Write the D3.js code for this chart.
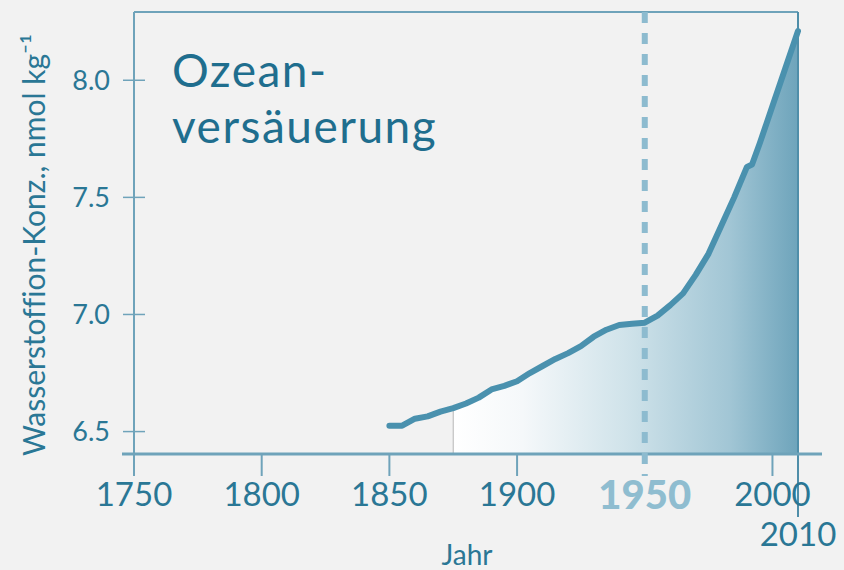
<!DOCTYPE html>
<html>
<head>
<meta charset="utf-8">
<script src="https://cdn.jsdelivr.net/npm/d3@7"></script>
<style>
  body { margin: 0; background: #f2f2f2; }
  svg { display: block; font-family: Lato, "Open Sans", sans-serif; font-variant-ligatures: none; }
</style>
</head>
<body>
<div id="chart-area"></div>
<script>
// data
const years = [1850, 1855, 1860, 1865, 1870, 1875, 1880, 1885, 1890, 1895,
  1900, 1905, 1910, 1915, 1920, 1925, 1930, 1935, 1940, 1945,
  1950, 1955, 1960, 1965, 1970, 1975, 1980, 1985, 1990, 1992,
  1995, 2000, 2005, 2010];
const values = [6.525, 6.525, 6.555, 6.565, 6.585, 6.60, 6.62, 6.645, 6.68, 6.695,
  6.715, 6.75, 6.78, 6.81, 6.835, 6.865, 6.905, 6.935, 6.955, 6.96,
  6.965, 6.995, 7.04, 7.09, 7.17, 7.26, 7.38, 7.50, 7.63, 7.64,
  7.73, 7.89, 8.05, 8.21];
const xTicks = [1750, 1800, 1850, 1900, 2000];
const yTicks = [6.5, 7.0, 7.5, 8.0];
const markYear = 1950;
const endYear = 2010;
const fillStart = 1875;

const W = 844, H = 570;
const MARGIN = { LEFT: 134, RIGHT: 46, TOP: 10, BOTTOM: 115 };

const svg = d3.select('#chart-area').append('svg')
    .attr('width', W)
    .attr('height', H);

const data = years.map((yr, i) => ({ year: yr, value: values[i] }));

const x = d3.scaleLinear()
    .domain([1750, 2010])
    .range([MARGIN.LEFT, W - MARGIN.RIGHT]);

const y = d3.scaleLinear()
    .domain([6.4, 8.3])
    .range([H - MARGIN.BOTTOM, MARGIN.TOP]);

const axisY = y(6.4) - 1;
const textColor = "#2a7795";
const axisColor = "#6fa3ba";

// gradient for area
const defs = svg.append("defs");
const grad = defs.append("linearGradient")
    .attr("id", "areaGrad")
    .attr("gradientUnits", "userSpaceOnUse")
    .attr("x1", x(fillStart)).attr("x2", x(endYear))
    .attr("y1", 0).attr("y2", 0);
[[0, "#ffffff"], [0.2, "#f5f8fa"], [0.5, "#d0e3ea"], [0.8, "#a2c6d5"], [1, "#6ea4bb"]]
    .forEach(s => grad.append("stop").attr("offset", s[0]).attr("stop-color", s[1]));

const areaData = data.filter(d => d.year >= fillStart);
const area = d3.area()
    .x(d => x(d.year))
    .y0(axisY)
    .y1(d => y(d.value));

svg.append("path")
    .datum(areaData)
    .attr("fill", "url(#areaGrad)")
    .attr("d", area);

// thin grey edge at start of fill
svg.append("line")
    .attr("x1", x(fillStart)).attr("x2", x(fillStart))
    .attr("y1", y(areaData[0].value)).attr("y2", axisY)
    .attr("stroke", "#b8b8b8")
    .attr("stroke-width", 1);

// frame: top and right (2010) lines
svg.append("line")
    .attr("x1", x(1750)).attr("x2", x(endYear))
    .attr("y1", y(8.3) + 2).attr("y2", y(8.3) + 2)
    .attr("stroke", axisColor).attr("stroke-width", 2);
svg.append("line")
    .attr("x1", x(endYear)).attr("x2", x(endYear))
    .attr("y1", y(8.3) + 2).attr("y2", axisY + 63)
    .attr("stroke", "#4f8ea9").attr("stroke-width", 2);

// y axis
const yAxis = svg.append("g")
    .attr("transform", `translate(${x(1750)}, 0)`);
yAxis.append("line")
    .attr("y1", y(8.3) + 2).attr("y2", axisY + 22)
    .attr("stroke", axisColor).attr("stroke-width", 2);
yAxis.selectAll(".ytick").data(yTicks).enter().append("line")
    .attr("x1", -11).attr("x2", 11)
    .attr("y1", d => y(d)).attr("y2", d => y(d))
    .attr("stroke", axisColor).attr("stroke-width", 1.5);
yAxis.selectAll(".ylab").data(yTicks).enter().append("text")
    .attr("x", -24)
    .attr("y", d => y(d))
    .attr("dy", "0.36em")
    .attr("text-anchor", "end")
    .attr("font-size", "27px")
    .attr("fill", textColor)
    .text(d => d3.format(".1f")(d));

// x axis
svg.append("line")
    .attr("x1", x(1750) - 12).attr("x2", x(endYear) + 24)
    .attr("y1", axisY).attr("y2", axisY)
    .attr("stroke", axisColor).attr("stroke-width", 3);
svg.selectAll(".xtick").data(xTicks).enter().append("line")
    .attr("x1", d => x(d)).attr("x2", d => x(d))
    .attr("y1", axisY).attr("y2", axisY + 22)
    .attr("stroke", axisColor).attr("stroke-width", 2);
svg.selectAll(".xlab").data(xTicks).enter().append("text")
    .attr("x", d => x(d))
    .attr("y", axisY + 52)
    .attr("text-anchor", "middle")
    .attr("font-size", "33px")
    .attr("fill", textColor)
    .text(d => d);

svg.append("text")
    .attr("x", x(endYear))
    .attr("y", axisY + 92)
    .attr("text-anchor", "middle")
    .attr("font-size", "33px")
    .attr("fill", textColor)
    .text(endYear);

// 1950 marker
svg.append("line")
    .attr("x1", x(markYear)).attr("x2", x(markYear))
    .attr("y1", y(8.3) + 2).attr("y2", axisY + 22)
    .attr("stroke", "#8dbbcf")
    .attr("stroke-width", 6)
    .attr("stroke-dasharray", "11 10");
svg.append("text")
    .attr("x", x(markYear))
    .attr("y", axisY + 55)
    .attr("text-anchor", "middle")
    .attr("font-size", "40px")
    .attr("font-weight", "900")
    .attr("fill", "#8fbdd0")
    .text(markYear);

// data line
const line = d3.line()
    .x(d => x(d.year))
    .y(d => y(d.value));
svg.append("path")
    .datum(data)
    .attr("fill", "none")
    .attr("stroke", "#4a91ae")
    .attr("stroke-width", 6)
    .attr("stroke-linejoin", "round")
    .attr("stroke-linecap", "round")
    .attr("d", line);

// title, two lines
svg.append("text")
    .attr("x", 172).attr("y", 87)
    .attr("font-size", "46px")
    .attr("letter-spacing", "1.5px")
    .attr("fill", "#1f6e8e")
    .text("Ozean-");
svg.append("text")
    .attr("x", 172).attr("y", 143)
    .attr("font-size", "46px")
    .attr("letter-spacing", "1.5px")
    .attr("fill", "#1f6e8e")
    .text("versäuerung");

// axis labels
svg.append("text")
    .attr("x", 467)
    .attr("y", 565)
    .attr("text-anchor", "middle")
    .attr("font-size", "28px")
    .attr("fill", textColor)
    .text("Jahr");

svg.append("text")
    .attr("transform", `translate(45, 245) rotate(-90)`)
    .attr("text-anchor", "middle")
    .attr("font-size", "30px")
    .attr("fill", textColor)
    .text("Wasserstoffion-Konz., nmol kg⁻¹");
</script>
</body>
</html>
